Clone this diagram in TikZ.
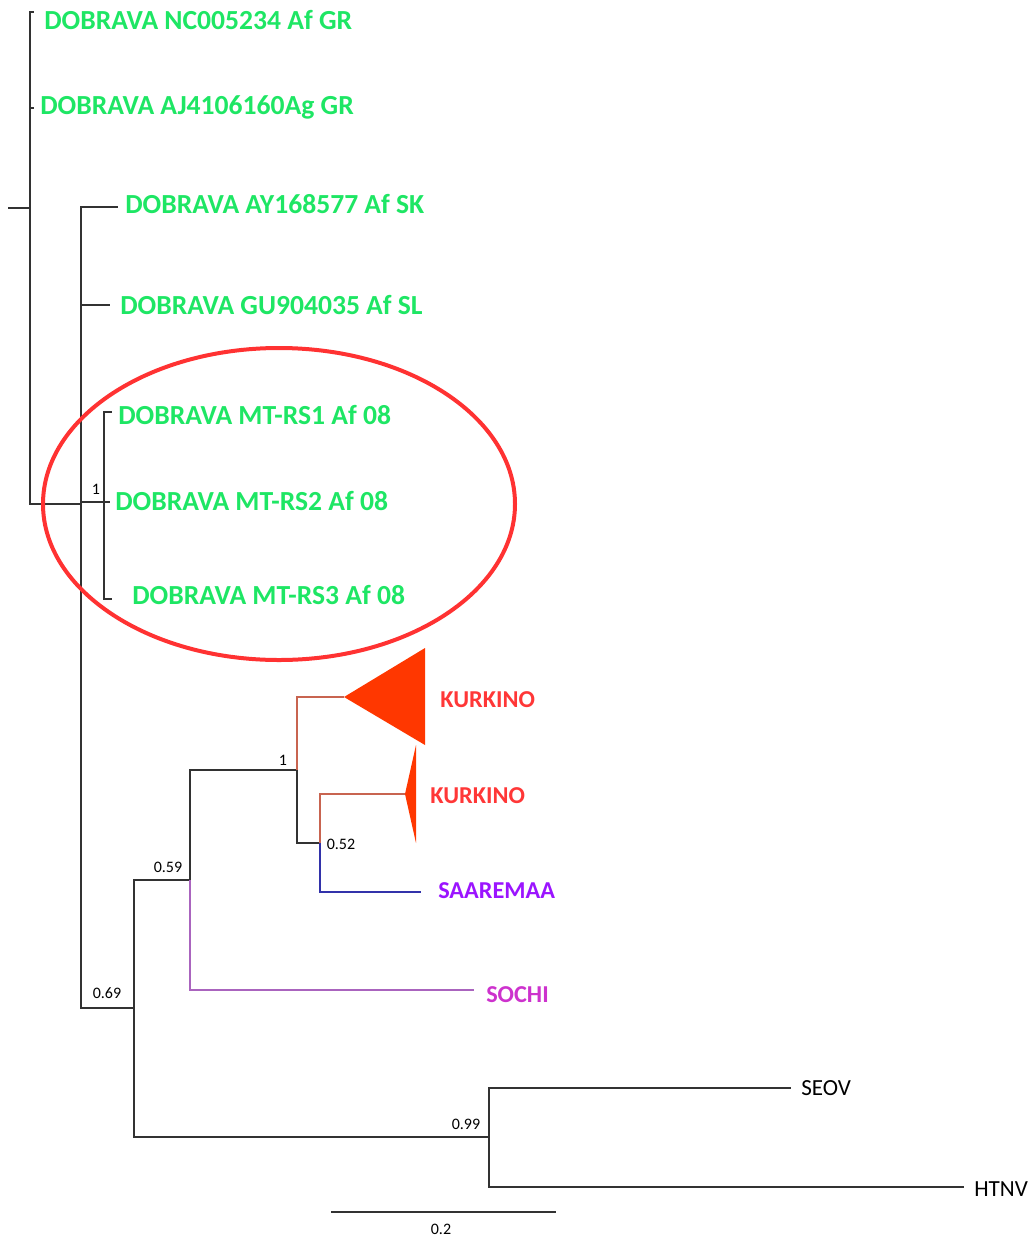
\documentclass[tikz,border=0pt]{standalone}
\usepackage{fontspec}
\setmainfont{Carlito}
\definecolor{dgreen}{RGB}{30,230,100}
\definecolor{kred}{RGB}{255,55,55}
\definecolor{tri}{RGB}{255,55,0}
\definecolor{brbr}{RGB}{200,100,80}
\definecolor{sapur}{RGB}{155,20,255}
\definecolor{somag}{RGB}{205,50,205}
\definecolor{sobr}{RGB}{170,100,190}
\definecolor{sabl}{RGB}{50,50,170}
\definecolor{ellred}{RGB}{255,50,50}
\definecolor{br}{RGB}{50,50,50}
\tikzset{
  branch/.style={draw=br, line width=1.1pt},
  dleaf/.style={anchor=west, inner sep=0pt, text=dgreen, font=\fontsize{20.7}{22}\selectfont\bfseries},
  kleaf/.style={anchor=west, inner sep=0pt, font=\fontsize{18.2}{20}\selectfont\bfseries},
  oleaf/.style={anchor=west, inner sep=0pt, text=black, font=\fontsize{17.3}{19}\selectfont},
  supp/.style={inner sep=0pt, text=black, font=\fontsize{12}{13}\selectfont},
}
\begin{document}
\begin{tikzpicture}[x=0.75pt,y=-0.75pt]
\useasboundingbox (0,0) rectangle (1034,1239);
% tree coordinates
\coordinate (root0) at (8,208);
\coordinate (n0) at (30,208);
\coordinate (l1) at (34,12);
\coordinate (l2) at (34,108);
\coordinate (n1) at (81,504);
\coordinate (ay) at (118,207);
\coordinate (gu) at (110,305);
\coordinate (mt) at (104,502);
\coordinate (rs1) at (112,412);
\coordinate (rs2) at (110,502);
\coordinate (rs3) at (112,599);
\coordinate (n69) at (134,1008);
\coordinate (n59) at (190,880);
\coordinate (n1b) at (297,770);
\coordinate (k1) at (344,697);
\coordinate (n52) at (320,843);
\coordinate (k2) at (405,794);
\coordinate (saa) at (421,892);
\coordinate (so) at (474,990);
\coordinate (n99) at (489,1137);
\coordinate (seo) at (791,1088);
\coordinate (htn) at (964,1187);
\coordinate (sb1) at (331,1212);
\coordinate (sb2) at (556,1212);
\coordinate (ellc) at (279,504);
% branches
\draw[branch] (root0) -- (n0);
\draw[branch] (n0) |- (l1);
\draw[branch] (n0) |- (l2);
\draw[branch] (n0) |- (n1);
\draw[branch] (n1) |- (ay);
\draw[branch] (n1) |- (gu);
\draw[branch] (n1 |- mt) -- (mt);
\draw[branch] (n1) |- (n69);
\draw[branch, line width=0.9pt] (mt) |- (rs1);
\draw[branch, line width=0.9pt] (mt) -- (rs2);
\draw[branch, line width=0.9pt] (mt) |- (rs3);
\draw[branch] (n69) |- (n59);
\draw[branch] (n69) |- (n99);
\draw[branch] (n59) |- (n1b);
\draw[branch, draw=sobr] (n59) |- (so);
\draw[branch, draw=brbr] (n1b) |- (k1);
\draw[branch] (n1b) |- (n52);
\draw[branch, draw=brbr] (n52) |- (k2);
\draw[branch, draw=sabl] (n52) |- (saa);
\draw[branch] (n99) |- (seo);
\draw[branch] (n99) |- (htn);
\draw[branch] (sb1) -- (sb2);
% collapsed clades
\fill[tri] (k1) -- (425,648) -- (425,745) -- cycle;
\fill[tri] (k2) -- (416,745) -- (416,843) -- cycle;
% leaf labels
\node[dleaf] (t1) at (44,20) {DOBRAVA NC005234 Af GR};
\node[dleaf] (t2) at (40,107) {DOBRAVA AJ4106160Ag GR};
\node[dleaf] (t3) at (125,204) {DOBRAVA AY168577 Af SK};
\node[dleaf] (t4) at (120,305) {DOBRAVA GU904035 Af SL};
\node[dleaf] (t5) at (118,415) {DOBRAVA MT-RS1 Af 08};
\node[dleaf] (t6) at (115,501) {DOBRAVA MT-RS2 Af 08};
\node[dleaf] (t7) at (132,595) {DOBRAVA MT-RS3 Af 08};
\node[kleaf, text=kred] (t8) at (440,700) {KURKINO};
\node[kleaf, text=kred] (t9) at (430,796) {KURKINO};
\node[kleaf, text=sapur] (t10) at (438,891) {SAAREMAA};
\node[kleaf, text=somag] (t11) at (486,995) {SOCHI};
\node[oleaf] (t12) at (801,1088) {SEOV};
\node[oleaf] (t13) at (974,1189) {HTNV};
% support values
\node[supp] (s1) at (96,489) {1};
\node[supp] (s2) at (283,760) {1};
\node[supp] (s3) at (341,844) {0.52};
\node[supp] (s4) at (168,867) {0.59};
\node[supp] (s5) at (107,993) {0.69};
\node[supp] (s6) at (466,1124) {0.99};
\node[supp] (s7) at (441,1229) {0.2};
% ellipse
\draw[ellred, line width=3pt] (ellc) ellipse [x radius=177pt, y radius=117pt];
\end{tikzpicture}
\end{document}
